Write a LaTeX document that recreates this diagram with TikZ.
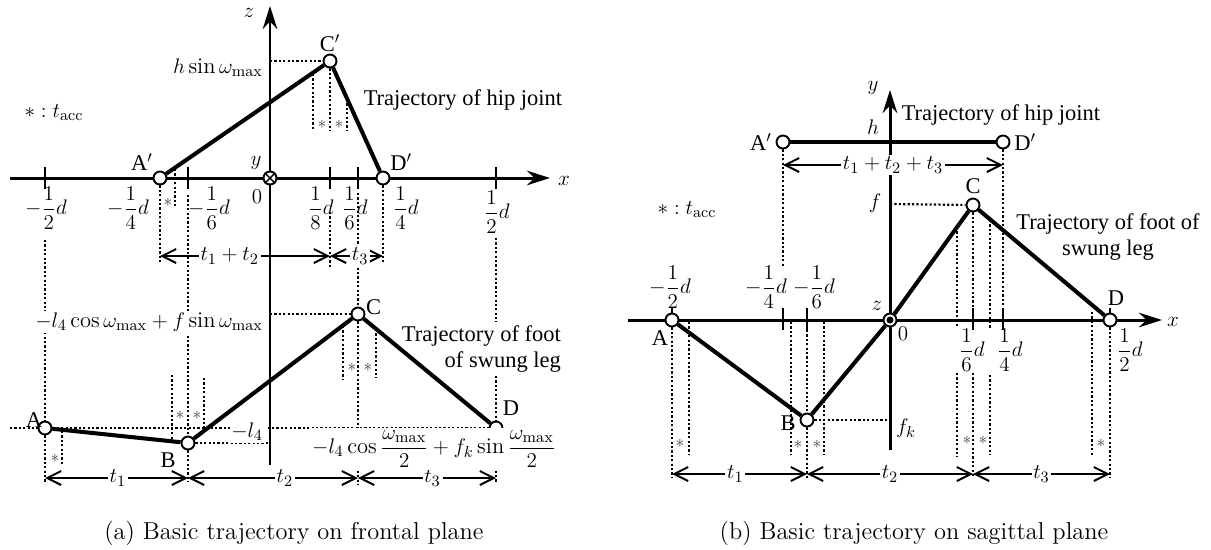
\documentclass[tikz,border=0pt]{standalone}
\usepackage{amsmath}
\usepackage{fontspec}
\newfontfamily\tnr{Liberation Serif}
\usetikzlibrary{arrows.meta,positioning,calc}

\begin{document}
\begin{tikzpicture}[x=0.02cm,y=-0.02cm,
  ax/.style={line width=1.7pt,-{Stealth[length=4.6mm,width=2.9mm,inset=1.5mm]}},
  tj/.style={line width=2.3pt},
  pv/.style={circle,draw,line width=1.1pt,fill=white,minimum size=2.6mm,inner sep=0pt},
  dt/.style={line width=1.25pt,dash pattern=on 1.25pt off 1.25pt},
  tk/.style={line width=1.1pt},
  tm/.style={line width=1.1pt,{Straight Barb[length=2.8mm,width=2.8mm]}-{Straight Barb[length=2.8mm,width=2.8mm]}},
  lab/.style={font=\tnr\fontsize{12.8}{14.5}\selectfont,inner sep=1pt},
  wl/.style={lab,fill=white},
  st/.style={font=\fontsize{10}{10}\selectfont,inner sep=0pt,text=black!75},
  capt/.style={font=\fontsize{13.9}{16}\selectfont}]
\useasboundingbox (0,0) rectangle (1211,549);

% ---------- (a) frontal plane ----------
\coordinate (xa0) at (10,178);  \coordinate (xa1) at (550,178);
\coordinate (za0) at (270,465); \coordinate (za1) at (270,6);
\draw[ax] (xa0) -- (xa1);
\draw[ax] (za0) -- (za1);
\foreach \u in {45,188,330,358,496} \draw[tk] (\u,167) -- (\u,189);
\node[pv] (O1) at (270,178) {};
\draw[line width=0.8pt] (O1.north east) -- (O1.south west) (O1.north west) -- (O1.south east);
\node[pv] (Ap) at (160,178) {};
\node[pv] (Cp) at (330,61) {};
\node[pv] (Dp) at (383,178) {};
\node[pv] (A) at (45,428) {};
\node[pv] (B) at (188,443) {};
\node[pv] (C) at (358,314) {};
\node[pv] (D) at (496,428) {};
% guides
\draw[dt] (270,61) -- (Cp);
\draw[dt] (313,74) -- (313,130) (Cp) -- (330,130) (347,99) -- (347,130);
\draw[dt] (Ap) -- (160,264) (175,169) -- (175,206);
\draw[dt] (330,212) -- (330,268);
\draw[dt] (Dp) -- (383,262);
\draw[dt] (358,193) -- (C) -- (358,485);
\draw[dt] (188,195) -- (B) -- (188,482);
\draw[dt] (45,240) -- (A) -- (45,482);
\draw[dt] (496,238) -- (496,322) (496,376) -- (D) -- (496,482);
\draw[dt] (10,428) -- (A) -- (D);
\draw[dt] (B) -- (270,443);
\draw[dt] (270,314) -- (C);
\draw[dt] (62,431) -- (62,465);
\draw[dt] (172,375) -- (172,440) (204,378) -- (204,431);
\draw[dt] (343,326) -- (343,380) (376,329) -- (376,378);
% trajectories
\draw[tj] (Ap) -- (Cp) -- (Dp);
\draw[tj] (A) -- (B) -- (C) -- (D);
% times
\draw[tm] (A |- 0,478) -- node[wl,pos=0.51]{$t_1$} (B |- 0,478);
\draw[tm] (B |- 0,478) -- node[wl,pos=0.57]{$t_2$} (C |- 0,478);
\draw[tm] (C |- 0,478) -- node[wl,pos=0.54]{$t_3$} (D |- 0,478);
\draw[tm] (Ap |- 0,256) -- node[wl,pos=0.41]{$t_1+t_2$} (Cp |- 0,256);
\draw[tm] (Cp |- 0,256) -- node[wl,pos=0.57]{$t_3$} (Dp |- 0,256);
% labels
\node[lab] at (249,13) {$z$};
\node[lab] at (256,163) {$y$};
\node[lab] at (257,197) {$0$};
\node[lab] at (564,181) {$x$};
\node[lab,above left=0pt of Ap] {A$'$};
\node[lab,above=0pt of Cp] {C$'$};
\node[lab,above right=0pt of Dp] {D$'$};
\node[lab,anchor=east] at (265,68) {$h\sin\omega_{\max}$};
\node[lab] at (463,100) {Trajectory of hip joint};
\node[lab] at (54,113) {$\ast:t_{\mathrm{acc}}$};
\node[lab] at (46,208) {$-\dfrac{1}{2}d$};
\node[lab] at (128,208) {$-\dfrac{1}{4}d$};
\node[lab] at (209,208) {$-\dfrac{1}{6}d$};
\node[lab] at (321,208) {$\dfrac{1}{8}d$};
\node[lab] at (355,208) {$\dfrac{1}{6}d$};
\node[lab] at (406,208) {$\dfrac{1}{4}d$};
\node[lab] at (497,212) {$\dfrac{1}{2}d$};
\node[wl,anchor=east] at (265,322) {$-l_4\cos\omega_{\max}+f\sin\omega_{\max}$};
\node[wl,anchor=east] at (265,432) {$-l_4$};
\node[wl] at (434,449) {$-l_4\cos\dfrac{\omega_{\max}}{2}+f_k\sin\dfrac{\omega_{\max}}{2}$};
\node[lab,anchor=east,align=right] at (563,349) {Trajectory of foot\\of swung leg};
\node[lab] at (34,420) {A};
\node[lab] at (168,460) {B};
\node[lab,anchor=west] at (364,307) {C};
\node[lab] at (511,408) {D};
\foreach \p in {(322,124),(339,124),(168,202),(55,458),(180,415),(197,415),(352,367),(368,367)}
  \node[st] at \p {$\ast$};
\node[capt] at (294,533) {(a) Basic trajectory on frontal plane};

% ---------- (b) sagittal plane ----------
\coordinate (xb0) at (628,320);  \coordinate (xb1) at (1162,320);
\coordinate (yb0) at (890,450);  \coordinate (yb1) at (890,90);
\draw[ax] (xb0) -- (xb1);
\draw[ax] (yb0) -- (yb1);
\foreach \u in {672,783,807,973,1003,1110} \draw[tk] (\u,308) -- (\u,330);
\node[pv] (O2) at (890,320) {};
\fill (O2) circle (2pt);
\node[pv] (Ap2) at (783,142) {};
\node[pv] (Dp2) at (1003,142) {};
\node[pv] (A2) at (672,320) {};
\node[pv] (B2) at (807,420) {};
\node[pv] (C2) at (973,205) {};
\node[pv] (D2) at (1110,320) {};
% guides
\draw[dt] (Ap2) -- (783,268);
\draw[dt] (890,204) -- (C2);
\draw[dt] (B2) -- (890,420);
\draw[dt] (A2) -- (672,478) (689,322) -- (689,455);
\draw[dt] (807,330) -- (B2) -- (807,478) (791,322) -- (791,455) (824,322) -- (824,455);
\draw[dt] (957,227) -- (957,328) (957,373) -- (957,457);
\draw[dt] (C2) -- (973,308) (973,373) -- (973,478);
\draw[dt] (990,220) -- (990,328) (990,375) -- (990,455);
\draw[dt] (Dp2) -- (1003,310);
\draw[dt] (1092,312) -- (1092,455) (D2) -- (1110,478);
% trajectories
\draw[tj] (Ap2) -- (Dp2);
\draw[tj] (A2) -- (B2) -- (O2) -- (C2) -- (D2);
% times
\draw[tm] (A2 |- 0,474) -- node[wl,pos=0.47]{$t_1$} (B2 |- 0,474);
\draw[tm] (B2 |- 0,474) -- node[wl]{$t_2$} (C2 |- 0,474);
\draw[tm] (C2 |- 0,474) -- node[wl]{$t_3$} (D2 |- 0,474);
\draw[tm] (Ap2 |- 0,165) -- node[wl]{$t_1+t_2+t_3$} (Dp2 |- 0,165);
% labels
\node[lab] at (873,88) {$y$};
\node[lab] at (873,127) {$h$};
\node[lab] at (1001,115) {Trajectory of hip joint};
\node[lab,left=1pt of Ap2] {A$'$};
\node[lab,right=1pt of Dp2] {D$'$};
\node[lab,above=1pt of C2] {C};
\node[lab] at (875,203) {$f$};
\node[lab] at (906,428) {$f_k$};
\node[lab] at (877,306) {$z$};
\node[lab] at (903,334) {$0$};
\node[lab] at (1173,322) {$x$};
\node[lab] at (660,338) {A};
\node[lab,inner sep=0pt] at (788,423) {B};
\node[lab] at (1116,298) {D};
\node[lab,align=center] at (1108,237) {Trajectory of foot of\\swung leg};
\node[lab] at (687,210) {$\ast:t_{\mathrm{acc}}$};
\node[lab] at (670,287) {$-\dfrac{1}{2}d$};
\node[lab] at (766,287) {$-\dfrac{1}{4}d$};
\node[lab] at (814,287) {$-\dfrac{1}{6}d$};
\node[lab] at (972,350) {$\dfrac{1}{6}d$};
\node[lab] at (1010,350) {$\dfrac{1}{4}d$};
\node[lab] at (1130,350) {$\dfrac{1}{2}d$};
\foreach \p in {(680,443),(798,444),(817,444),(967,440),(983,440),(1101,443)}
  \node[st] at \p {$\ast$};
\node[capt] at (914,533) {(b) Basic trajectory on sagittal plane};
\end{tikzpicture}
\end{document}
